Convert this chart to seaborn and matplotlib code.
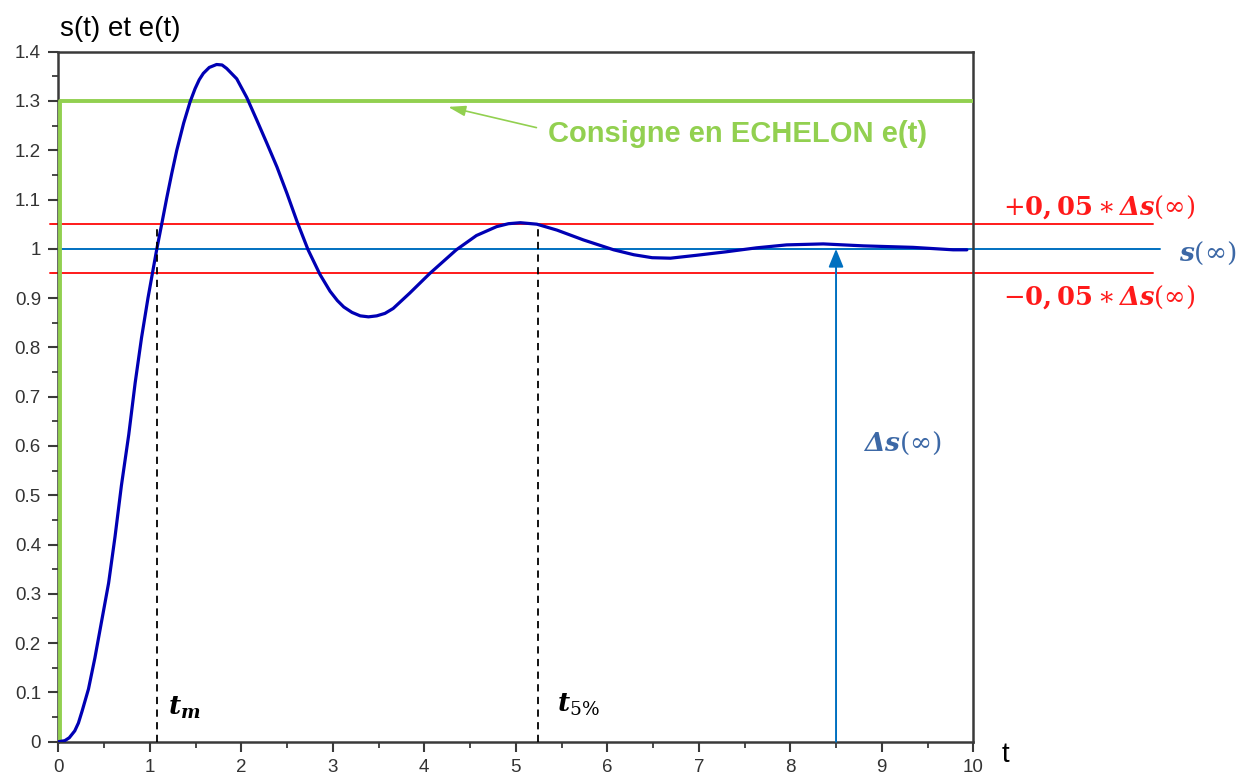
import numpy as np
import pandas as pd
import seaborn as sns
import matplotlib
matplotlib.use("Agg")
from matplotlib import pyplot as plt
from matplotlib.ticker import MultipleLocator, FormatStrFormatter

# values
t_resp = [0.0, 0.07, 0.12, 0.18, 0.22, 0.26, 0.33, 0.40, 0.47, 0.55, 0.62, 0.69,
          0.77, 0.84, 0.91, 0.98, 1.04, 1.075, 1.13, 1.185, 1.24, 1.295, 1.37,
          1.44, 1.495, 1.54, 1.585, 1.65, 1.73, 1.79, 1.84, 1.95, 2.06, 2.17,
          2.28, 2.39, 2.50, 2.61, 2.73, 2.86, 2.97, 3.05, 3.12, 3.21, 3.30, 3.39,
          3.48, 3.57, 3.66, 3.84, 4.06, 4.35, 4.57, 4.79, 4.92, 5.05, 5.23, 5.45,
          5.74, 6.07, 6.29, 6.49, 6.69, 6.98, 7.30, 7.63, 7.96, 8.36, 8.80, 9.34,
          9.78, 9.93]
s_resp = [0.0, 0.002, 0.008, 0.022, 0.038, 0.062, 0.107, 0.170, 0.241, 0.322,
          0.416, 0.520, 0.623, 0.728, 0.820, 0.900, 0.962, 0.998, 1.050, 1.103,
          1.153, 1.200, 1.255, 1.298, 1.325, 1.343, 1.356, 1.368, 1.374, 1.373,
          1.366, 1.345, 1.307, 1.261, 1.214, 1.166, 1.112, 1.055, 0.998, 0.948,
          0.914, 0.895, 0.882, 0.871, 0.864, 0.862, 0.864, 0.869, 0.879, 0.910,
          0.950, 0.998, 1.027, 1.045, 1.051, 1.053, 1.050, 1.038, 1.018, 0.998,
          0.988, 0.982, 0.981, 0.987, 0.994, 1.002, 1.008, 1.010, 1.006, 1.003,
          0.998, 0.998]
t_step = [0.0, 0.02, 0.02, 10.0]
e_step = [0.0, 0.0, 1.3, 1.3]

s_final = 1.0
band_hi = 1.05
band_lo = 0.95
t_m = 1.08
t_5 = 5.24
t_delta = 8.5

resp = pd.DataFrame({"t": t_resp, "s": s_resp})
step = pd.DataFrame({"t": t_step, "e": e_step})

sns.set_style("ticks")
plt.rcParams["font.family"] = ["Liberation Sans", "DejaVu Sans"]
plt.rcParams["mathtext.fontset"] = "dejavuserif"

green = "#92d050"
red = "#ff1a1a"
blue_line = "#0070c0"
blue_txt = "#3c68a6"
navy = "#0000b4"
spine = "#3a3a3a"

fig = plt.figure(figsize=(12.51, 7.76), dpi=100)
ax = fig.add_axes([0.0466, 0.0442, 0.7314, 0.8892])

# band and final value lines (go a bit past the axes on the right)
ax.plot([-0.09, 11.96], [band_hi, band_hi], color=red, lw=1.4, clip_on=False, zorder=2)
ax.plot([-0.09, 11.96], [band_lo, band_lo], color=red, lw=1.4, clip_on=False, zorder=2)
ax.plot([0, 12.04], [s_final, s_final], color=blue_line, lw=1.4, clip_on=False, zorder=2)

sns.lineplot(data=step, x="t", y="e", sort=False, estimator=None, color=green,
             lw=2.8, ax=ax, zorder=3)
sns.lineplot(data=resp, x="t", y="s", sort=False, estimator=None, color=navy,
             lw=2.3, ax=ax, zorder=4)
ax.lines[-1].set_solid_joinstyle("round")

# dashed markers for t_m and t_5%
ax.vlines([t_m, t_5], 0, band_hi, colors="black", linestyles=(0, (4, 3)), lw=1.3, zorder=5)

# delta s arrow
ax.annotate("", xy=(t_delta, s_final), xytext=(t_delta, 0),
            arrowprops=dict(arrowstyle="-|>,head_width=0.45,head_length=1.1",
                            color=blue_line, lw=1.4, shrinkA=0, shrinkB=0), zorder=5)

ax.annotate("Consigne en ECHELON e(t)", xy=(4.26, 1.288), xytext=(5.35, 1.232),
            color=green, fontsize=21, fontweight="bold", va="center", ha="left",
            arrowprops=dict(arrowstyle="-|>,head_width=0.15,head_length=0.5",
                            color=green, lw=1.2, shrinkA=6, shrinkB=0,
                            relpos=(0, 0.65)))

ax.text(1.2, 0.055, r"$\mathbfit{t}_{\mathbfit{m}}$", fontsize=19, color="black")
ax.text(5.45, 0.06, r"$\mathbfit{t}_{5\%}$", fontsize=19, color="black")
ax.text(10.32, 1.085, r"$+\mathbf{0,05}\ast\mathbfit{\Delta s}(\infty)$", fontsize=18.5,
        color=red, va="center", clip_on=False)
ax.text(10.32, 0.902, r"$-\mathbf{0,05}\ast\mathbfit{\Delta s}(\infty)$", fontsize=18.5,
        color=red, va="center", clip_on=False)
ax.text(12.25, 0.99, r"$\mathbfit{s}(\infty)$", fontsize=19, color=blue_txt,
        va="center", clip_on=False)
ax.text(8.8, 0.605, r"$\mathbfit{\Delta s}(\infty)$", fontsize=19, color=blue_txt,
        va="center")

ax.set_xlim(0, 10)
ax.set_ylim(0, 1.4)
ax.xaxis.set_major_locator(MultipleLocator(1))
ax.xaxis.set_minor_locator(MultipleLocator(0.5))
ax.yaxis.set_major_locator(MultipleLocator(0.1))
ax.yaxis.set_minor_locator(MultipleLocator(0.05))
ax.yaxis.set_major_formatter(FormatStrFormatter("%g"))
ax.tick_params(which="major", direction="out", length=7.5, width=1.5, color=spine,
               labelsize=13.5, labelcolor="#333333", pad=5)
ax.tick_params(which="minor", direction="out", length=4, width=1.3, color=spine)
ax.tick_params(which="both", bottom=True, left=True, top=False, right=False)
for sp in ax.spines.values():
    sp.set_color(spine)
    sp.set_linewidth(1.8)
ax.set_xlabel("")
ax.set_ylabel("")

fig.text(0.048, 0.962, "s(t) et e(t)", fontsize=20, color="black", va="center")
fig.text(0.801, 0.027, "t", fontsize=20, color="black", va="center")

fig.savefig("out.png", dpi=100)
